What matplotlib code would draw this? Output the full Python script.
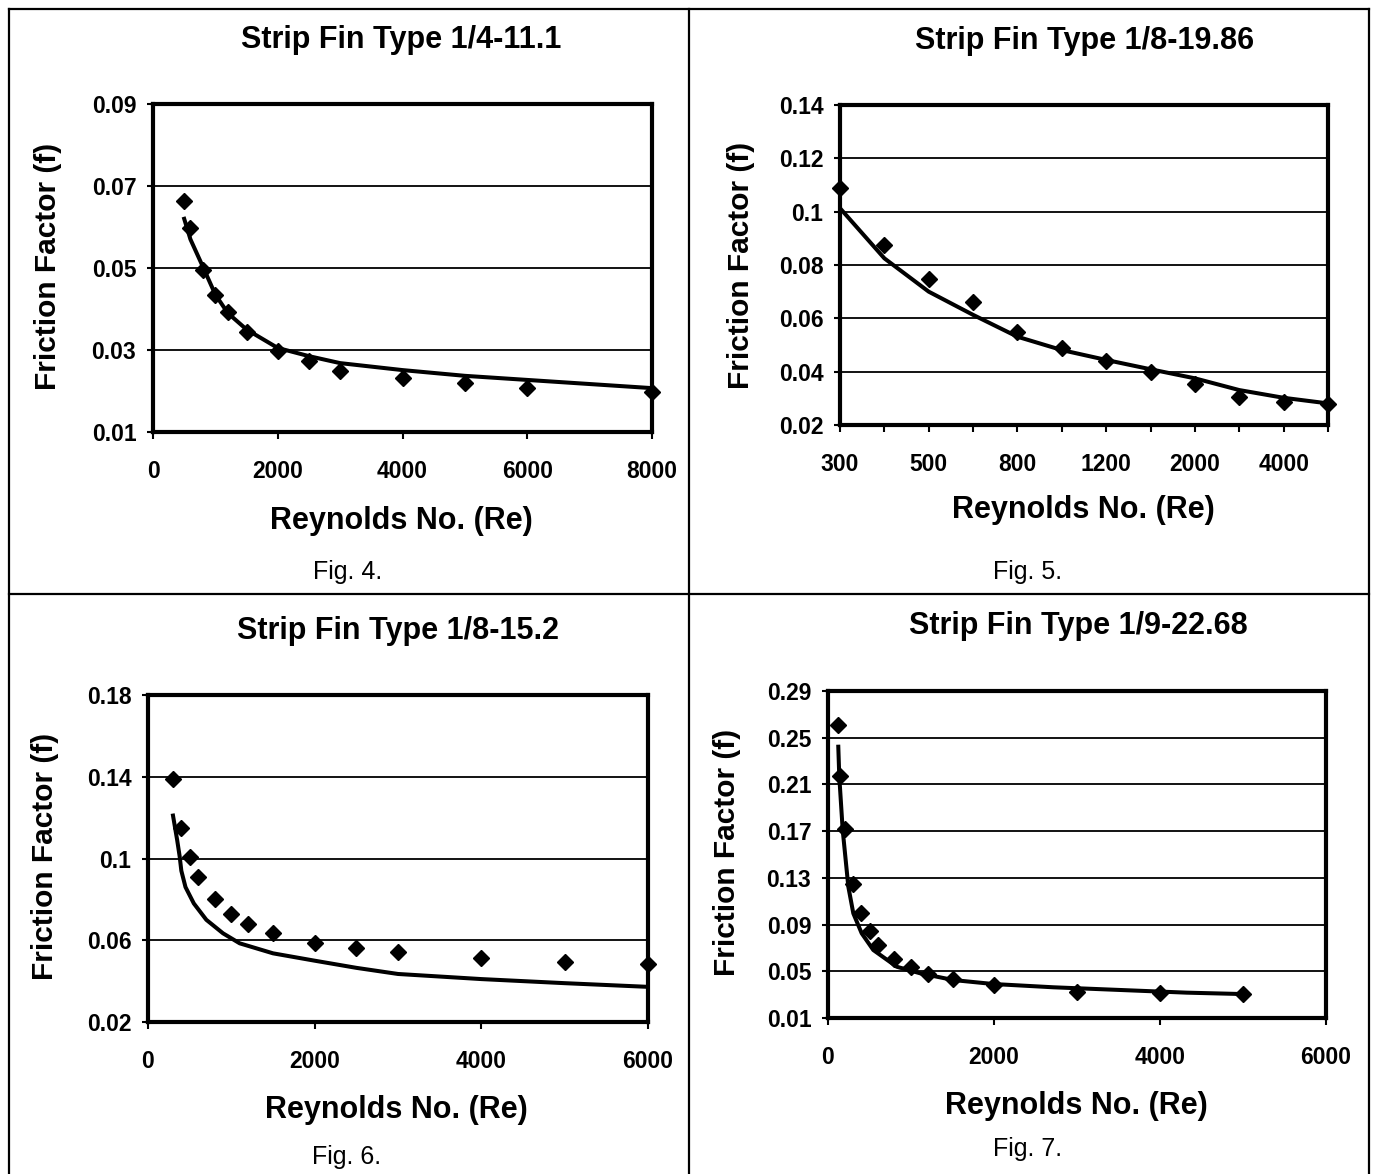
import numpy as np
import matplotlib
matplotlib.use("Agg")
from matplotlib import pyplot as plt
from matplotlib.lines import Line2D

plt.rcParams['font.family'] = ['Liberation Sans', 'DejaVu Sans']
plt.rcParams['font.weight'] = 'bold'

# Fig. 4 - Strip Fin Type 1/4-11.1
re4 = [500, 600, 800, 1000, 1200, 1500, 2000, 2500, 3000, 4000, 5000, 6000, 8000]
f4 = [0.0663, 0.0597, 0.0495, 0.0434, 0.0393, 0.0345, 0.0298, 0.0272, 0.0249,
      0.0231, 0.0219, 0.0207, 0.0197]
re4_fit = [500, 600, 800, 1000, 1200, 1500, 2000, 2500, 3000, 4000, 5000, 6000, 7000, 8000]
f4_fit = [0.0620, 0.0570, 0.0503, 0.0435, 0.0390, 0.0350, 0.0305, 0.0285, 0.0268,
          0.0251, 0.0237, 0.0227, 0.0217, 0.0207]

# Fig. 5 - Strip Fin Type 1/8-19.86 (category axis)
re5 = [300, 400, 500, 600, 800, 1000, 1200, 1500, 2000, 3000, 4000, 5000]
f5 = [0.1088, 0.0875, 0.0748, 0.0662, 0.0550, 0.0488, 0.0441, 0.0398, 0.0354,
      0.0306, 0.0288, 0.0279]
f5_fit = [0.1013, 0.0825, 0.0700, 0.0613, 0.0531, 0.0481, 0.0444, 0.0409, 0.0375,
          0.0331, 0.0302, 0.0281]

# Fig. 6 - Strip Fin Type 1/8-15.2
re6 = [300, 400, 500, 600, 800, 1000, 1200, 1500, 2000, 2500, 3000, 4000, 5000, 6000]
f6 = [0.1390, 0.1147, 0.1008, 0.0910, 0.0800, 0.0728, 0.0678, 0.0634, 0.0588,
      0.0560, 0.0541, 0.0514, 0.0495, 0.0484]
re6_fit = [300, 350, 380, 400, 450, 550, 700, 900, 1100, 1500, 2000, 2500, 3000, 4000, 5000, 6000]
f6_fit = [0.1210, 0.1090, 0.1010, 0.0940, 0.0860, 0.0780, 0.0700, 0.0634, 0.0585,
          0.0536, 0.0500, 0.0465, 0.0435, 0.0410, 0.0390, 0.0372]

# Fig. 7 - Strip Fin Type 1/9-22.68
re7 = [120, 150, 200, 300, 400, 500, 600, 800, 1000, 1200, 1500, 2000, 3000, 4000, 5000]
f7 = [0.2609, 0.2170, 0.1715, 0.1244, 0.1001, 0.0845, 0.0725, 0.0602, 0.0539,
      0.0474, 0.0431, 0.0383, 0.0325, 0.0317, 0.0305]
re7_fit = [124, 136, 177, 245, 305, 406, 546, 828, 1109, 1510, 1992, 2715, 3518, 4322, 5000]
f7_fit = [0.2423, 0.2166, 0.1710, 0.1224, 0.0996, 0.0825, 0.0682, 0.0539, 0.0483,
          0.0425, 0.0391, 0.0363, 0.0340, 0.0317, 0.0305]

W, H = 1375, 1174
fig = plt.figure(figsize=(W / 100, H / 100), dpi=100)


def panel(l, t, r, b):
    ax = fig.add_axes([l / W, 1 - b / H, (r - l) / W, (b - t) / H])
    for s in ax.spines.values():
        s.set_linewidth(3)
        s.set_color('black')
    ax.grid(axis='y', color='black', linewidth=1.3)
    ax.set_axisbelow(True)
    ax.tick_params(axis='x', direction='out', length=5, width=1.5, pad=15, labelsize=16.5)
    ax.tick_params(axis='y', direction='out', length=4, width=1.5, pad=8, labelsize=16.5)
    return ax


def texts(title, tpos, xpos, ypos, cap, cpos):
    fig.text(tpos[0] / W, 1 - tpos[1] / H, title, ha='center', va='center', fontsize=22)
    fig.text(xpos[0] / W, 1 - xpos[1] / H, 'Reynolds No. (Re)', ha='center', va='center', fontsize=22)
    fig.text(ypos[0] / W, 1 - ypos[1] / H, 'Friction Factor (f)', ha='center', va='center',
             fontsize=21.5, rotation=90)
    fig.text(cpos[0] / W, 1 - cpos[1] / H, cap, ha='center', va='center', fontsize=18,
             fontweight='normal')


mk = dict(marker='D', markersize=8.5, color='black', linestyle='none', clip_on=False, zorder=4)
ln = dict(color='black', linewidth=2.9, zorder=3)

# Fig. 4
ax = panel(153, 104, 652, 432)
ax.plot(re4_fit, f4_fit, **ln)
ax.plot(re4, f4, **mk)
ax.set_xlim(0, 8000)
ax.set_ylim(0.01, 0.09)
ax.set_xticks([0, 2000, 4000, 6000, 8000])
ax.set_yticks([0.01, 0.03, 0.05, 0.07, 0.09])
ax.set_yticklabels(['0.01', '0.03', '0.05', '0.07', '0.09'])
ax.set_xticklabels(['0', '2000', '4000', '6000', '8000'])
texts('Strip Fin Type 1/4-11.1', (401, 40), (401, 521), (48, 266), 'Fig. 4.', (348, 572))

# Fig. 5
ax = panel(840, 105, 1328, 425)
pos5 = np.arange(1, len(re5) + 1)
ax.plot(pos5, f5_fit, **ln)
ax.plot(pos5, f5, **mk)
ax.set_xlim(1, len(re5))
ax.set_ylim(0.02, 0.14)
ax.set_xticks(pos5)
ax.set_xticklabels([str(v) if i % 2 == 0 else '' for i, v in enumerate(re5)])
ax.set_yticks([0.02, 0.04, 0.06, 0.08, 0.10, 0.12, 0.14])
ax.set_yticklabels(['0.02', '0.04', '0.06', '0.08', '0.1', '0.12', '0.14'])
texts('Strip Fin Type 1/8-19.86', (1085, 41), (1083, 510), (741, 265), 'Fig. 5.', (1028, 572))

# Fig. 6
ax = panel(148, 695, 648, 1022)
ax.plot(re6_fit, f6_fit, **ln)
ax.plot(re6, f6, **mk)
ax.set_xlim(0, 6000)
ax.set_ylim(0.02, 0.18)
ax.set_xticks([0, 2000, 4000, 6000])
ax.set_xticklabels(['0', '2000', '4000', '6000'])
ax.set_yticks([0.02, 0.06, 0.10, 0.14, 0.18])
ax.set_yticklabels(['0.02', '0.06', '0.1', '0.14', '0.18'])
texts('Strip Fin Type 1/8-15.2', (398, 631), (396, 1110), (45, 856), 'Fig. 6.', (347, 1157))

# Fig. 7
ax = panel(828, 691, 1326, 1018)
ax.plot(re7_fit, f7_fit, **ln)
ax.plot(re7, f7, **mk)
ax.set_xlim(0, 6000)
ax.set_ylim(0.01, 0.29)
ax.set_xticks([0, 2000, 4000, 6000])
ax.set_xticklabels(['0', '2000', '4000', '6000'])
ax.set_yticks([0.01, 0.05, 0.09, 0.13, 0.17, 0.21, 0.25, 0.29])
ax.set_yticklabels(['0.01', '0.05', '0.09', '0.13', '0.17', '0.21', '0.25', '0.29'])
texts('Strip Fin Type 1/9-22.68', (1078, 626), (1076, 1106), (727, 852), 'Fig. 7.', (1028, 1149))

# table frame around the four figures
for x0, y0, x1, y1 in [(9, 9, 1369, 9), (9, 9, 9, H), (1369, 9, 1369, H),
                       (688.5, 9, 688.5, H), (9, 594, 1369, 594)]:
    fig.add_artist(Line2D([x0 / W, x1 / W], [1 - y0 / H, 1 - y1 / H],
                          color='black', linewidth=1.6))

fig.savefig('out.png', dpi=100)
